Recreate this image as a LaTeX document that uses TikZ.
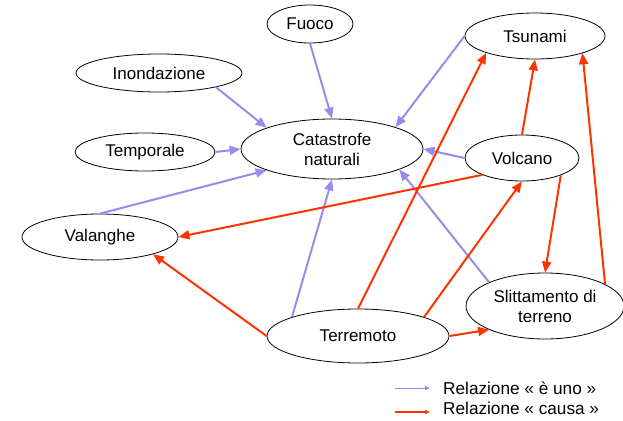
\documentclass[tikz,border=0pt]{standalone}
\usepackage{fontspec}
\setmainfont{Liberation Sans}
\usetikzlibrary{shapes.geometric,arrows.meta}
\definecolor{isa}{RGB}{150,140,235}
\definecolor{cause}{RGB}{255,51,0}
\tikzset{
  ev/.style={ellipse,draw=black,line width=0.8pt,inner sep=0pt,align=center,
    font=\fontsize{17}{20}\selectfont},
  isarrow/.style={draw=isa,line width=2pt,-{Triangle[length=11pt,width=9pt]}},
  causearrow/.style={draw=cause,line width=2pt,-{Triangle[length=11pt,width=9pt]}},
  legisa/.style={draw=isa,line width=1pt,-{Triangle[length=5pt,width=4pt]}},
  legcause/.style={draw=cause,line width=1.4pt,-{Triangle[length=5pt,width=4pt]}},
  legtext/.style={anchor=base west,inner sep=0pt,font=\fontsize{17.2}{20}\selectfont}
}
\begin{document}
\begin{tikzpicture}[x=1pt,y=-1pt]
\useasboundingbox (0,0) rectangle (623,420);
\node[ev,minimum width=86pt,minimum height=38pt] (fuoco) at (310,24) {Fuoco};
\node[ev,minimum width=166pt,minimum height=38pt] (inond) at (159,73) {Inondazione};
\node[ev,minimum width=140pt,minimum height=38pt] (temp) at (145,152) {Temporale};
\node[ev,minimum width=182pt,minimum height=60pt] (cat) at (332,149) {Catastrofe\\naturali};
\node[ev,minimum width=156pt,minimum height=46pt] (val) at (100,237) {Valanghe};
\node[ev,minimum width=140pt,minimum height=46pt] (tsu) at (535,36) {Tsunami};
\node[ev,minimum width=114pt,minimum height=46pt] (vol) at (522,158) {Volcano};
\node[ev,minimum width=182pt,minimum height=54pt] (terr) at (358,336) {Terremoto};
\node[ev,minimum width=158pt,minimum height=66pt] (slit) at (545,306) {Slittamento di\\terreno};

% is-a relations
\draw[isarrow] (inond.-14) -- (cat.162);
\draw[isarrow] (temp.east) -- (cat.west);
\draw[isarrow] (val.north) -- (cat.198);
\draw[isarrow] (fuoco.south) -- (cat.north);
\draw[isarrow] (tsu.west) -- (cat.19);
\draw[isarrow] (vol.west) -- (cat.east);
\draw[isarrow] (terr.164) -- (cat.south);
\draw[isarrow] (slit.157) -- (cat.-17);

% cause relations
\draw[causearrow] (vol.203) -- (val.east);
\draw[causearrow] (terr.west) -- (val.-18);
\draw[causearrow] (terr.north) -- (tsu.199);
\draw[causearrow] (terr.16) -- (vol.south);
\draw[causearrow] (terr.east) -- (slit.203);
\draw[causearrow] (vol.north) -- (tsu.south);
\draw[causearrow] (vol.-24) -- (slit.north);
\draw[causearrow] (slit.20) -- (tsu.-20);

% legend
\coordinate (l1a) at (395,388);
\coordinate (l1b) at (430,388);
\coordinate (l2a) at (395,412);
\coordinate (l2b) at (430,412);
\draw[legisa] (l1a) -- (l1b);
\draw[legcause] (l2a) -- (l2b);
\node[legtext] (t1) at (443,394) {Relazione « è uno »};
\node[legtext] (t2) at (443,414) {Relazione « causa »};
\end{tikzpicture}
\end{document}
